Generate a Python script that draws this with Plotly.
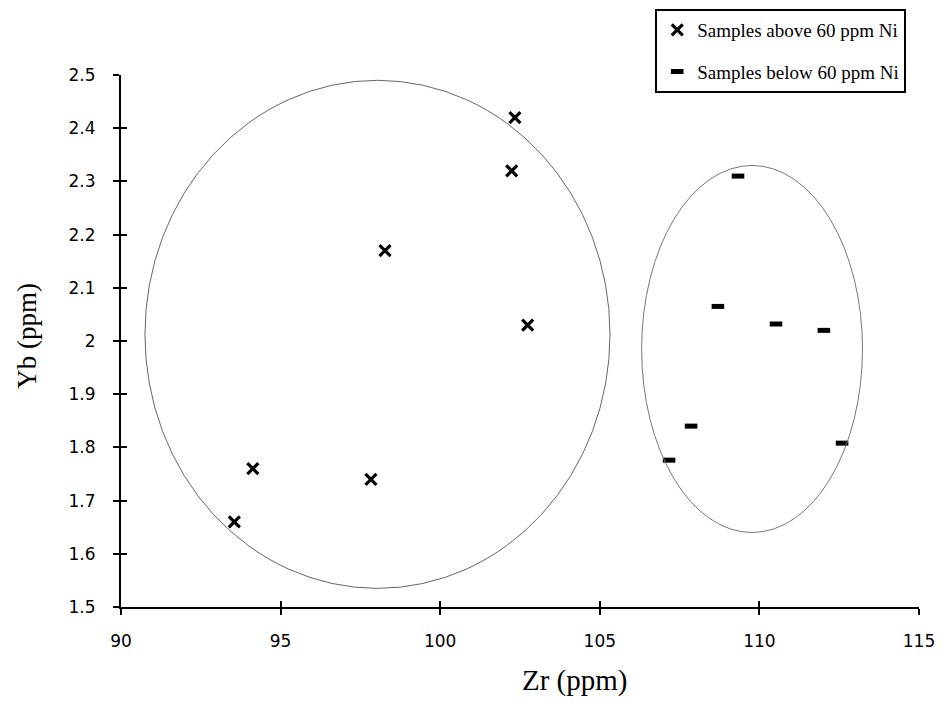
import plotly.graph_objects as go

# Data
above_zr = [93.55, 94.13, 97.83, 98.27, 102.24, 102.34, 102.74]
above_yb = [1.66, 1.76, 1.74, 2.17, 2.32, 2.42, 2.03]

below_zr = [107.17, 107.86, 108.70, 109.33, 110.52, 112.02, 112.59]
below_yb = [1.776, 1.84, 2.065, 2.31, 2.032, 2.02, 1.808]

x_ticks = [90, 95, 100, 105, 110, 115]
y_ticks = [1.5, 1.6, 1.7, 1.8, 1.9, 2.0, 2.1, 2.2, 2.3, 2.4, 2.5]
y_tick_labels = ["1.5", "1.6", "1.7", "1.8", "1.9", "2", "2.1", "2.2", "2.3", "2.4", "2.5"]

fig = go.Figure()
fig.add_trace(go.Scatter(
    x=above_zr, y=above_yb, mode="markers", name="Samples above 60 ppm Ni",
    marker=dict(symbol="x-thin-open", size=11, line=dict(width=3.2, color="black"), color="black"),
    legendgroup="a",
))
fig.add_trace(go.Scatter(
    x=below_zr, y=below_yb, mode="markers", name="Samples below 60 ppm Ni",
    marker=dict(symbol="line-ew-open", size=9, line=dict(width=5, color="black"), color="black"),
    legendgroup="b",
))

# Enclosing ellipses
fig.add_shape(type="circle", xref="x", yref="y", x0=90.75, x1=105.32, y0=1.535, y1=2.49,
              line=dict(color="#666666", width=1))
fig.add_shape(type="circle", xref="x", yref="y", x0=106.31, x1=113.23, y0=1.64, y1=2.33,
              line=dict(color="#777777", width=1))

serif = "Liberation Serif, Times New Roman, serif"
tickfont = dict(family="DejaVu Sans, Arial", size=17, color="black")
fig.update_layout(
    width=939, height=699,
    margin=dict(l=113, r=28, t=67, b=100, autoexpand=False),
    plot_bgcolor="white", paper_bgcolor="white",
    showlegend=True,
    legend=dict(
        x=0.984, y=1.124, xanchor="right", yanchor="top",
        bordercolor="black", borderwidth=2, bgcolor="white",
        font=dict(family=serif, size=19, color="black"),
        tracegroupgap=14, itemwidth=30,
    ),
    xaxis=dict(
        range=[90, 115], tickvals=x_ticks, ticktext=[str(v) for v in x_ticks],
        showgrid=False, zeroline=False, showline=True, linecolor="black", linewidth=2,
        ticks="outside", ticklen=6, tickwidth=1.5, tickcolor="black",
        tickfont=tickfont, ticklabelstandoff=12,
    ),
    yaxis=dict(
        range=[1.5, 2.5], tickvals=y_ticks, ticktext=y_tick_labels,
        showgrid=False, zeroline=False, showline=True, linecolor="black", linewidth=2,
        ticks="outside", ticklen=6, tickwidth=1.5, tickcolor="black",
        tickfont=tickfont, ticklabelstandoff=14,
    ),
    xaxis2=dict(range=[90, 115], tickvals=x_ticks, overlaying="x", side="bottom", anchor="y",
                ticks="inside", ticklen=6, tickwidth=1.5, tickcolor="black",
                showticklabels=False, showgrid=False, zeroline=False, showline=False),
    yaxis2=dict(range=[1.5, 2.5], tickvals=y_ticks, overlaying="y", side="left", anchor="x",
                ticks="inside", ticklen=6, tickwidth=1.5, tickcolor="black",
                showticklabels=False, showgrid=False, zeroline=False, showline=False),
    annotations=[
        dict(text="Zr (ppm)", xref="paper", yref="paper", x=0.569, y=-0.139,
             xanchor="center", yanchor="middle", showarrow=False,
             font=dict(family=serif, size=29, color="black")),
        dict(text="Yb (ppm)", xref="paper", yref="paper", x=-0.117, y=0.509,
             xanchor="center", yanchor="middle", showarrow=False, textangle=-90,
             font=dict(family=serif, size=27, color="black")),
    ],
)
fig.add_trace(go.Scatter(x=[None], y=[None], xaxis="x2", yaxis="y2", showlegend=False, hoverinfo="skip"))

fig.write_html("out.html")
